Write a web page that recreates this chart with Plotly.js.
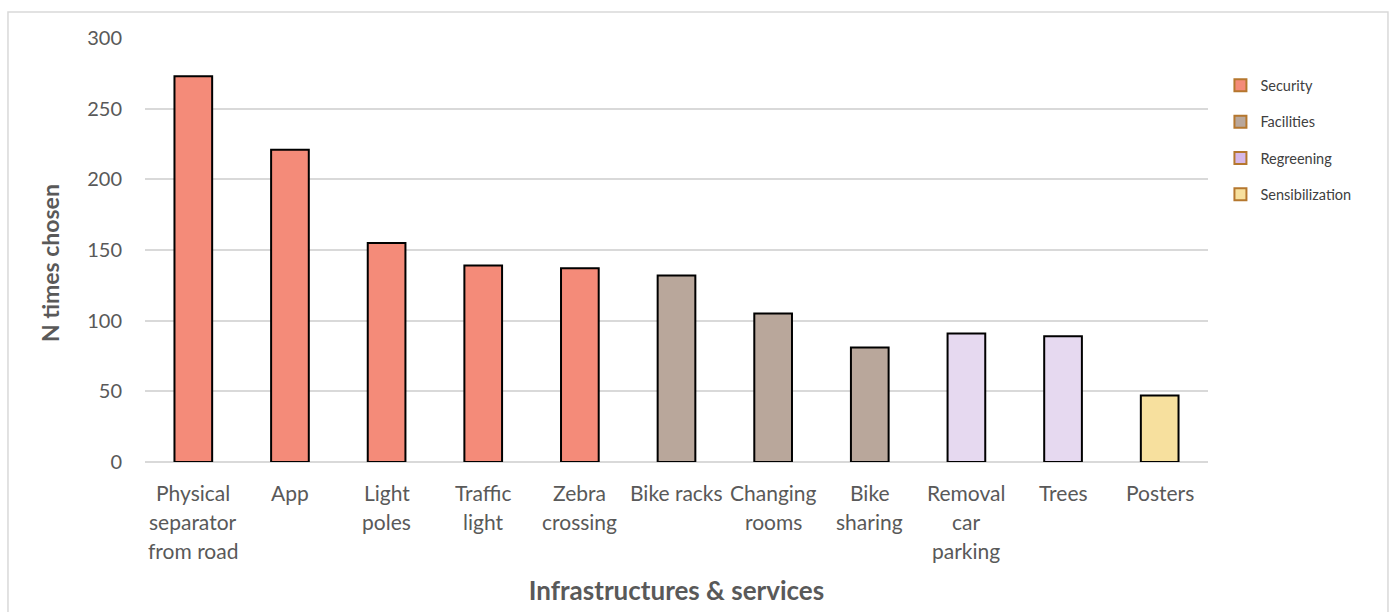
<!DOCTYPE html>
<html>
<head>
<meta charset="utf-8">
<script src="https://cdn.plot.ly/plotly-3.0.1.min.js"></script>
<style>html,body{margin:0;padding:0;background:#fff;}#chart{width:1392px;height:612px;}</style>
</head>
<body>
<div id="chart"></div>
<script>
var categories = ["Physical<br>separator<br>from road", "App", "Light<br>poles", "Traffic<br>light", "Zebra<br>crossing", "Bike racks", "Changing<br>rooms", "Bike<br>sharing", "Removal<br>car<br>parking", "Trees", "Posters"];
var values = [273, 221, 155, 139, 137, 132, 105, 81, 91, 89, 47];
var groups = ["Security", "Security", "Security", "Security", "Security", "Facilities", "Facilities", "Facilities", "Regreening", "Regreening", "Sensibilization"];
var groupNames = ["Security", "Facilities", "Regreening", "Sensibilization"];
var barColors = ["#F48B79", "#B9A79B", "#E6D9F0", "#F7E09E"];
var legendColors = ["#F48B79", "#B9A79B", "#D6B8E8", "#F7E09E"];
var yTicks = [0, 50, 100, 150, 200, 250, 300];

var font = "Lato, 'Open Sans', sans-serif";
var traces = [];
groupNames.forEach(function (g, gi) {
  var xs = [], ys = [];
  categories.forEach(function (c, i) {
    if (groups[i] === g) { xs.push(c); ys.push(values[i]); }
  });
  traces.push({
    type: "bar", x: xs, y: ys, name: g, showlegend: false,
    width: 0.39,
    marker: {color: barColors[gi], line: {color: "#000000", width: 2}},
    hoverinfo: "x+y"
  });
});
groupNames.forEach(function (g, gi) {
  traces.push({
    type: "bar", x: [categories[0]], y: [null], name: g, showlegend: true,
    legendgroup: g,
    marker: {color: legendColors[gi], line: {color: "#B5772E", width: 2}}
  });
});

// category labels drawn line by line for Excel-like line spacing
var annotations = [];
categories.forEach(function (c) {
  c.split("<br>").forEach(function (line, li) {
    annotations.push({
      x: c, xref: "x", y: 0, yref: "paper", yanchor: "middle", xanchor: "center",
      text: line, showarrow: false, yshift: -30 - 29 * li,
      font: {size: 21, color: "#595959", family: font}
    });
  });
});
annotations.push({
  x: -0.0894, xref: "paper", y: 0.469, yref: "paper", textangle: -90,
  xanchor: "center", yanchor: "middle", showarrow: false,
  text: "<b>N times chosen</b>", font: {size: 23, color: "#595959", family: font}
});

var layout = {
  width: 1392, height: 612,
  margin: {l: 145, r: 184, t: 38, b: 150},
  paper_bgcolor: "#ffffff", plot_bgcolor: "#ffffff",
  barmode: "overlay",
  font: {family: font, color: "#595959"},
  xaxis: {
    type: "category", categoryorder: "array", categoryarray: categories,
    showticklabels: false,
    showgrid: false, zeroline: false, showline: false, ticks: "",
    title: {text: "<b>Infrastructures &amp; services</b>", font: {size: 26, color: "#595959", family: font}, standoff: 119}
  },
  yaxis: {
    range: [0, 300], tickvals: yTicks, ticktext: yTicks.map(String),
    tickfont: {size: 20, color: "#595959", family: font},
    showgrid: true, gridcolor: "#D9D9D9", gridwidth: 2,
    zeroline: true, zerolinecolor: "#D9D9D9", zerolinewidth: 2,
    showline: false, ticks: "", ticklabelstandoff: 22
  },
  legend: {
    x: 1.0117, y: 0.926, xanchor: "left", yanchor: "top",
    font: {size: 14.5, color: "#404040", family: font},
    traceorder: "grouped", tracegroupgap: 14.5,
    bgcolor: "rgba(0,0,0,0)"
  },
  annotations: annotations,
  shapes: [{
    type: "rect", xref: "paper", yref: "paper",
    x0: -0.1289, x1: 1.1693, y0: -0.42, y1: 1.0613,
    line: {color: "#D9D9D9", width: 1.5}, fillcolor: "rgba(0,0,0,0)", layer: "below"
  }]
};

Plotly.newPlot("chart", traces, layout, {displayModeBar: false, staticPlot: true});
</script>
</body>
</html>
